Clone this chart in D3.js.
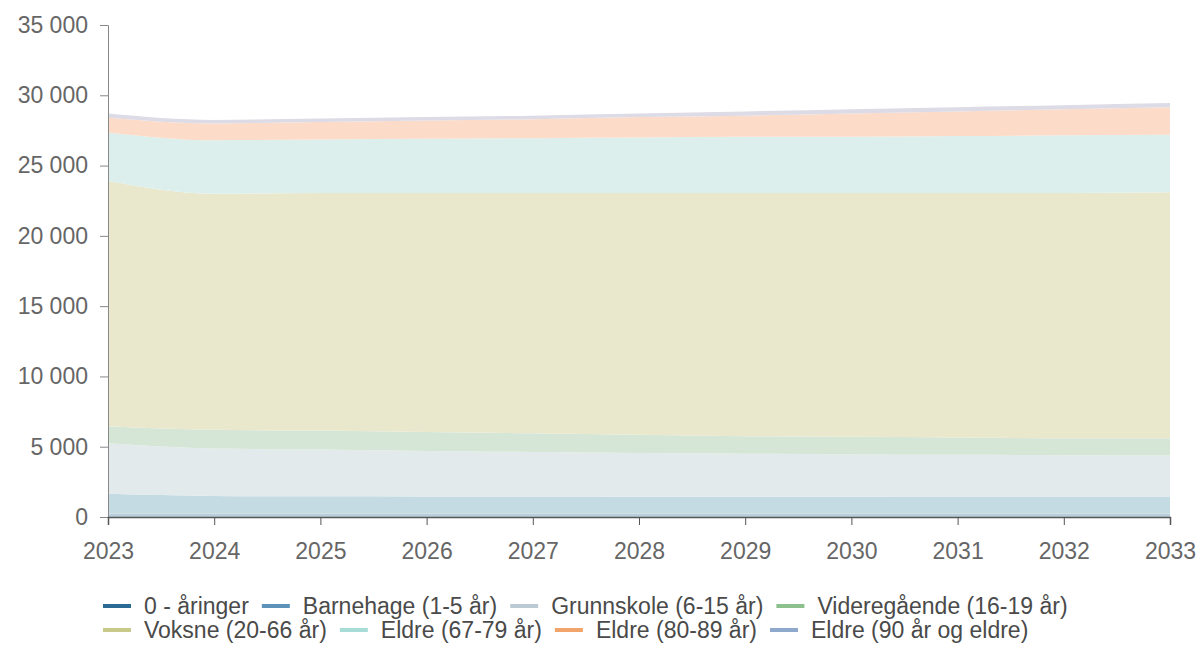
<!DOCTYPE html>
<html><head><meta charset="utf-8">
<script src="https://cdn.jsdelivr.net/npm/d3@7"></script>
<style>
body{margin:0;background:#fff;}
svg{display:block;font-family:"Liberation Sans",Arial,sans-serif;}
</style></head>
<body><svg id="c" width="1204" height="650"></svg>
<script>
const years = [2023,2024,2025,2026,2027,2028,2029,2030,2031,2032,2033];
const seriesNames = ["0 - åringer","Barnehage (1-5 år)","Grunnskole (6-15 år)","Videregående (16-19 år)","Voksne (20-66 år)","Eldre (67-79 år)","Eldre (80-89 år)","Eldre (90 år og eldre)"];
const aaringer      = [255,245,245,248,250,250,250,252,252,253,253];
const barnehage     = [1400,1255,1225,1217,1205,1195,1195,1193,1203,1202,1212];
const grunnskole    = [3600,3380,3330,3235,3165,3105,3055,3005,2965,2945,2915];
const videregaende  = [1200,1320,1350,1350,1330,1300,1250,1250,1230,1200,1220];
const voksne        = [17450,16800,16900,17000,17100,17200,17300,17350,17400,17450,17500];
const eldre6779     = [3450,3800,3800,3850,3900,3950,4000,4000,4050,4100,4100];
const eldre8089     = [1050,1200,1250,1300,1350,1450,1500,1650,1750,1850,1950];
const eldre90       = [300,250,250,250,250,250,300,300,300,300,300];
const yTicks = [0,5000,10000,15000,20000,25000,30000,35000];

const seriesValues = [aaringer,barnehage,grunnskole,videregaende,voksne,eldre6779,eldre8089,eldre90];
const lineColors = ["#2b6a94","#5d93b8","#bccbd3","#8cc08c","#c9c98a","#a8dcd6","#f2a56a","#8fa9cc"];
const fillColors = ["#b8cfdb","#c5dbe3","#e3eaec","#d6e6d6","#e9e8cd","#dcefed","#fcdcc8","#dcdbe6"];

const svg = d3.select("#c");
const m = {l:108, r:34, t:25, b:133};
const W = 1204, H = 650;
const x = d3.scaleLinear().domain([2023,2033]).range([m.l, W-m.r]);
const y = d3.scaleLinear().domain([0,35000]).range([H-m.b, m.t]);

const table = years.map((yr,i)=>{const o={year:yr}; seriesNames.forEach((n,k)=>o[n]=seriesValues[k][i]); return o;});
const stack = d3.stack().keys(seriesNames)(table);
const area = d3.area().x(d=>x(d.data.year)).y0(d=>y(d[0])).y1(d=>y(d[1])).curve(d3.curveMonotoneX);

svg.append("g").selectAll("path").data(stack).join("path")
  .attr("d",area).attr("fill",(d,i)=>fillColors[i]);

const loc = d3.formatLocale({decimal:",",thousands:" ",grouping:[3],currency:["",""]});
const fmt = loc.format(",");

const ya = svg.append("g").attr("transform",`translate(${m.l},0)`)
  .call(d3.axisLeft(y).tickValues(yTicks).tickFormat(fmt).tickSize(8).tickPadding(12));
ya.select(".domain").attr("stroke","#888");
ya.selectAll(".tick line").attr("stroke","#888");
ya.selectAll("text").attr("fill","#666").style("font-size","23px");

const xa = svg.append("g").attr("transform",`translate(0,${H-m.b})`)
  .call(d3.axisBottom(x).tickValues(years).tickFormat(d3.format("d")).tickSize(8).tickPadding(18));
xa.select(".domain").attr("stroke","#555").attr("stroke-width",1.5);
xa.selectAll(".tick line").attr("stroke","#555");
xa.selectAll("text").attr("fill","#666").style("font-size","23px");

// legend
const rows = [[0,1,2,3],[4,5,6,7]];
const rowY = [606,630];
rows.forEach((r,ri)=>{
  let cx = 103;
  r.forEach(k=>{
    const g = svg.append("g");
    g.append("line").attr("x1",cx).attr("x2",cx+28).attr("y1",rowY[ri]).attr("y2",rowY[ri])
      .attr("stroke",lineColors[k]).attr("stroke-width",4);
    const t = g.append("text").attr("x",cx+41).attr("y",rowY[ri]).attr("dy","0.35em")
      .attr("fill","#4a4a4a").style("font-size","23px").text(seriesNames[k]);
    cx += 41 + t.node().getComputedTextLength() + 13;
  });
});
</script></body></html>
